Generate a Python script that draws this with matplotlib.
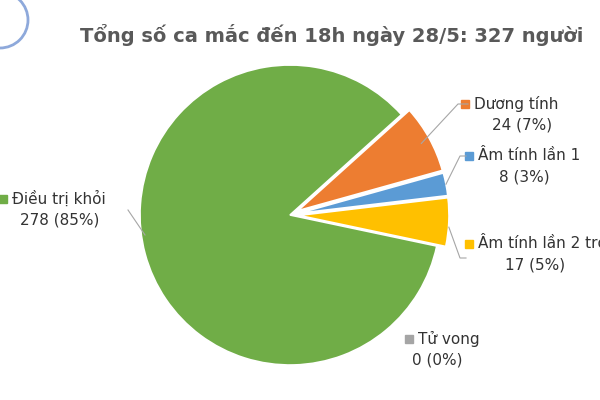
import matplotlib
matplotlib.use("Agg")
import matplotlib.pyplot as plt
import numpy as np

categories = ["Dương tính", "Âm tính lần 1", "Âm tính lần 2 trở lên", "Tử vong", "Điều trị khỏi"]
values = [24, 8, 17, 0, 278]
pct_labels = ["24 (7%)", "8 (3%)", "17 (5%)", "0 (0%)", "278 (85%)"]
colors = ["#ED7D31", "#5B9BD5", "#FFC000", "#A5A5A5", "#70AD47"]
title = "Tổng số ca mắc đến 18h ngày 28/5: 327 người"

fig = plt.figure(figsize=(6, 4), dpi=100)
ax = fig.add_axes([0, 0, 1, 1])

cx, cy, R = 290, 185, 150
wedges, _ = ax.pie(values, colors=colors, startangle=42, counterclock=False,
                   explode=[9, 9, 9, 0, 0], center=(cx, cy), radius=R, frame=True,
                   wedgeprops=dict(edgecolor="white", linewidth=1.2))
ax.set_xlim(0, 600); ax.set_ylim(0, 400); ax.set_aspect("equal"); ax.axis("off")

fig.text(80/600, 1-35/400, title, fontsize=14, fontweight="bold", color="#595959", va="center")

lab = {0: (474, 104, 522), 1: (478, 156, 524), 2: (478, 244, 535),
       3: (418, 339, 437), 4: (12, 199, 60)}
txt = "#333333"
for i, (nx, ny, numx) in lab.items():
    w = wedges[i]
    th = np.deg2rad((w.theta1 + w.theta2) / 2)
    ox, oy = w.center
    ex, ey = ox + w.r * np.cos(th), oy + w.r * np.sin(th)
    name = categories[i] if i != 2 else "Âm tính lần 2 trở"
    ax.text(nx, 400 - ny, name, fontsize=11, ha="left", va="center", color=txt)
    ax.text(numx, 400 - ny - 21, pct_labels[i], fontsize=11, ha="center", va="center", color=txt)
    ax.plot(nx - 9, 400 - ny, "s", color=colors[i], ms=6)
    if i == 4:
        ax.plot([128, 145], [400 - 210, 400 - 235], color="#A6A6A6", lw=0.8)
    elif i == 0:
        ax.plot([ex - 8, 458, 468], [ey - 5, 400 - 104, 400 - 104], color="#A6A6A6", lw=0.8)
    elif i == 1:
        ax.plot([ex, 460, 466], [ey, 400 - 156, 400 - 156], color="#A6A6A6", lw=0.8)
    elif i == 2:
        ax.plot([ex, 460, 466], [ey - 5, 400 - 258, 400 - 258], color="#A6A6A6", lw=0.8)

circ = plt.Circle((0, 380), 28, fill=False, ec="#8EA9DB", lw=2)
ax.add_patch(circ)

fig.savefig("out.png", dpi=100, facecolor="white")
